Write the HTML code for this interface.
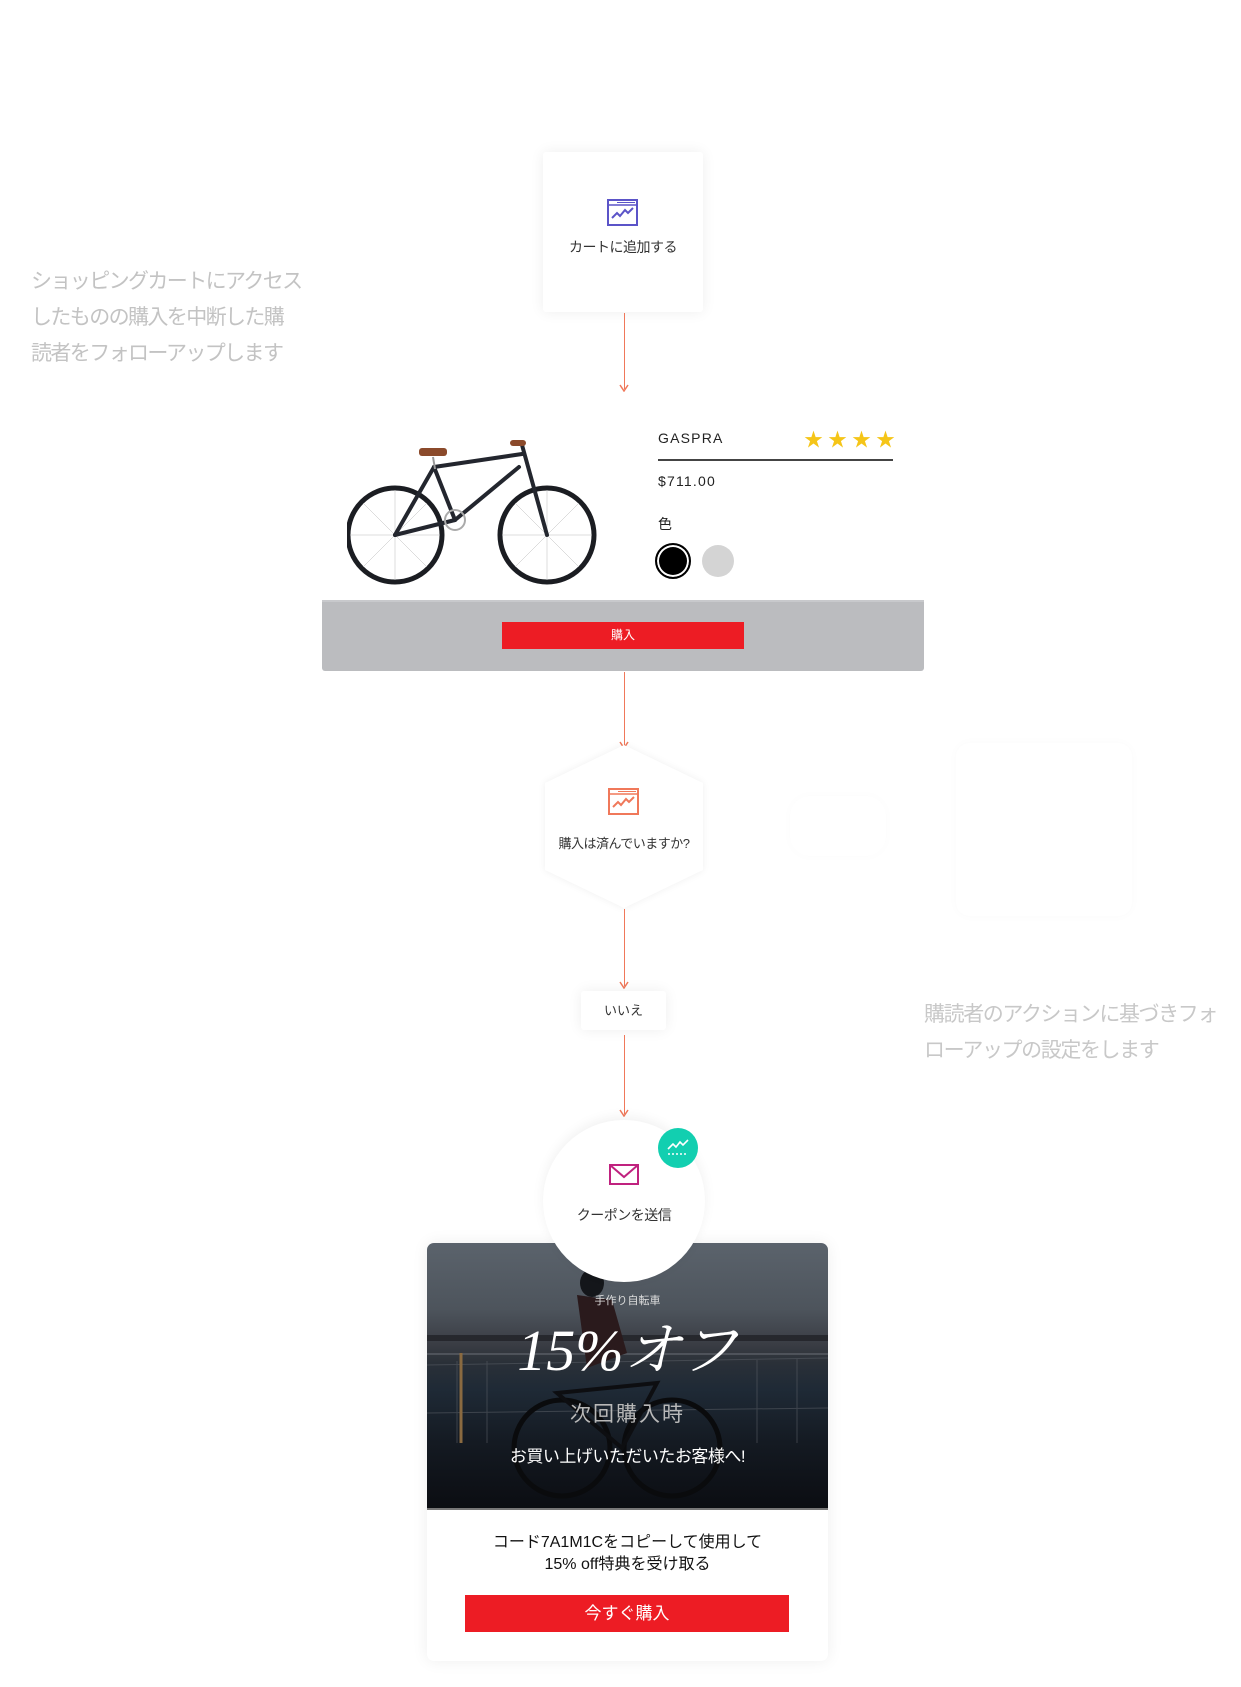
<!DOCTYPE html>
<html><head><meta charset="utf-8"><style>
*{margin:0;padding:0;box-sizing:border-box}
body{width:1241px;height:1687px;background:#fff;position:relative;overflow:hidden;font-family:"Liberation Sans","Noto Sans CJK JP",sans-serif;}
.a{position:absolute}
.t{position:absolute;white-space:nowrap}
.line{position:absolute;width:1.5px;background:#f0785a;left:623.5px}
.ah{position:absolute;left:619px;width:10px;height:8px}
.shadow{box-shadow:0 0 14px rgba(0,0,0,0.07)}
</style></head><body>

<div class="a" style="left:956px;top:743px;width:176px;height:173px;border-radius:14px;box-shadow:0 0 10px rgba(0,0,0,0.025);"></div>
<div class="a" style="left:790px;top:796px;width:96px;height:60px;border-radius:20px;box-shadow:0 0 10px rgba(0,0,0,0.02);"></div>

<div class="t" style="left:31px;top:264px;font-size:21px;line-height:36px;letter-spacing:-1.6px;color:#c3c3c3;">ショッピングカートにアクセス<br>したものの購入を中断した購<br>読者をフォローアップします</div>

<div class="t" style="left:924px;top:997px;font-size:21px;line-height:36px;letter-spacing:-1.4px;color:#c8c8c8;">購読者のアクションに基づきフォ<br>ローアップの設定をします</div>

<div class="a shadow" style="left:543px;top:152px;width:160px;height:160px;background:#fff;border-radius:3px;"></div>
<svg class="a" style="left:607px;top:199px" width="31" height="27" viewBox="0 0 31 27">
<rect x="1" y="1" width="29" height="25" fill="none" stroke="#5b54c8" stroke-width="2"/>
<line x1="1" y1="6" x2="30" y2="6" stroke="#5b54c8" stroke-width="1.5"/>
<line x1="10" y1="3.5" x2="28" y2="3.5" stroke="#5b54c8" stroke-width="1"/>
<polyline points="5,19 10,14 13,17 18,11 21,14 26,9" fill="none" stroke="#5b54c8" stroke-width="2"/>
</svg>
<div class="t" style="left:543px;width:160px;text-align:center;top:237px;font-size:14px;letter-spacing:-0.5px;color:#333;">カートに追加する</div>

<div class="line" style="top:313px;height:76px"></div>
<svg class="ah" style="top:384px" viewBox="0 0 10 8"><polyline points="1,1 5,7 9,1" fill="none" stroke="#f0785a" stroke-width="1.5"/></svg>

<svg class="a" style="left:347px;top:437px" width="252" height="150" viewBox="0 0 252 150">
<g fill="none" stroke="#1b1d22">
<circle cx="48" cy="98" r="47" stroke-width="5"/>
<circle cx="200" cy="98" r="47" stroke-width="5"/>
</g>
<g stroke="#bbb" stroke-width="0.5">
<line x1="48" y1="53" x2="48" y2="143"/><line x1="3" y1="98" x2="93" y2="98"/><line x1="16" y1="66" x2="80" y2="130"/><line x1="80" y1="66" x2="16" y2="130"/>
<line x1="200" y1="53" x2="200" y2="143"/><line x1="155" y1="98" x2="245" y2="98"/><line x1="168" y1="66" x2="232" y2="130"/><line x1="232" y1="66" x2="168" y2="130"/>
</g>
<g stroke="#23262e" stroke-width="4" fill="none" stroke-linecap="round">
<line x1="87" y1="30" x2="175" y2="17"/>
<line x1="87" y1="30" x2="108" y2="83"/>
<line x1="108" y1="83" x2="172" y2="30"/>
<line x1="108" y1="83" x2="48" y2="98"/>
<line x1="87" y1="30" x2="48" y2="98"/>
<line x1="175" y1="8" x2="200" y2="98"/>
</g>
<line x1="86" y1="20" x2="88" y2="32" stroke="#999" stroke-width="2"/>
<rect x="72" y="11" width="28" height="8" rx="3" fill="#8b4a2b"/>
<rect x="163" y="3" width="16" height="6" rx="3" fill="#8b4a2b"/>
<circle cx="108" cy="83" r="10" fill="none" stroke="#aaa" stroke-width="2"/>
</svg>

<div class="t" style="left:658px;top:430px;font-size:14px;letter-spacing:1.2px;color:#222;">GASPRA</div>
<div class="t" style="left:804px;top:425px;font-size:19px;letter-spacing:5px;color:#f5c518;">★★★★</div>
<div class="a" style="left:658px;top:459px;width:235px;height:2px;background:#444;"></div>
<div class="t" style="left:658px;top:473px;font-size:14px;letter-spacing:1.2px;color:#222;">$711.00</div>
<div class="t" style="left:658px;top:514px;font-size:14px;color:#222;">色</div>
<div class="a" style="left:655px;top:543px;width:36px;height:36px;border-radius:50%;background:#000;border:2px solid #000;box-shadow:inset 0 0 0 2px #fff;"></div>
<div class="a" style="left:702px;top:545px;width:32px;height:32px;border-radius:50%;background:#d4d4d4;"></div>

<div class="a" style="left:322px;top:600px;width:602px;height:71px;background:#bbbcbf;border-top:2px solid #c8c9cc;border-radius:0 0 3px 3px;"></div>
<div class="a" style="left:502px;top:622px;width:242px;height:27px;background:#ed1c24;color:#fff;font-size:12px;text-align:center;line-height:27px;">購入</div>

<div class="line" style="top:672px;height:74px"></div>
<svg class="ah" style="top:741px" viewBox="0 0 10 8"><polyline points="1,1 5,7 9,1" fill="none" stroke="#f0785a" stroke-width="1.5"/></svg>

<svg class="a" style="left:534px;top:738px" width="180" height="180" viewBox="0 0 180 180">
<defs><filter id="sh" x="-20%" y="-20%" width="140%" height="140%"><feGaussianBlur stdDeviation="4"/></filter></defs>
<polygon points="90,7 169,45 169,132 90,170 11,132 11,45" fill="#000" opacity="0.06" filter="url(#sh)"/>
<polygon points="90,7 169,45 169,132 90,170 11,132 11,45" fill="#fff"/>
</svg>
<svg class="a" style="left:608px;top:788px" width="31" height="27" viewBox="0 0 31 27">
<rect x="1" y="1" width="29" height="25" fill="none" stroke="#f0785a" stroke-width="2"/>
<line x1="1" y1="6" x2="30" y2="6" stroke="#f0785a" stroke-width="1.5"/>
<line x1="10" y1="3.5" x2="28" y2="3.5" stroke="#f0785a" stroke-width="1"/>
<polyline points="5,19 10,14 13,17 18,11 21,14 26,9" fill="none" stroke="#f0785a" stroke-width="2"/>
</svg>
<div class="t" style="left:534px;width:180px;text-align:center;top:833px;font-size:13px;letter-spacing:-0.5px;color:#333;">購入は済んでいますか?</div>

<div class="line" style="top:909px;height:77px"></div>
<svg class="ah" style="top:981px" viewBox="0 0 10 8"><polyline points="1,1 5,7 9,1" fill="none" stroke="#f0785a" stroke-width="1.5"/></svg>

<div class="a shadow" style="left:581px;top:991px;width:85px;height:39px;background:#fff;border-radius:3px;font-size:13px;color:#333;text-align:center;line-height:39px;">いいえ</div>

<div class="line" style="top:1035px;height:79px"></div>
<svg class="ah" style="top:1109px" viewBox="0 0 10 8"><polyline points="1,1 5,7 9,1" fill="none" stroke="#f0785a" stroke-width="1.5"/></svg>

<div class="a" style="left:427px;top:1243px;width:401px;height:418px;background:#fff;border-radius:7px;box-shadow:0 0 16px rgba(0,0,0,0.07);overflow:hidden;">
  <div class="a" style="left:0;top:0;width:401px;height:266px;background:linear-gradient(180deg,#5b636c 0%,#4d545c 25%,#3a3d44 38%,#2a3038 45%,#1f2a36 55%,#141a22 75%,#0b0d12 100%);"></div>
  <div class="a" style="left:0;top:92px;width:401px;height:6px;background:#1c1e22;opacity:.7"></div>
  <div class="a" style="left:0;top:110px;width:401px;height:2px;background:#6b6f78;opacity:.5"></div>
  <svg class="a" style="left:0;top:0" width="401" height="266">
    <g stroke="#555a62" stroke-width="1" opacity="0.6">
      <line x1="0" y1="122" x2="401" y2="115"/><line x1="0" y1="170" x2="401" y2="165"/>
      <line x1="30" y1="118" x2="30" y2="200"/><line x1="60" y1="118" x2="60" y2="200"/><line x1="330" y1="117" x2="330" y2="200"/><line x1="370" y1="116" x2="370" y2="200"/>
    </g>
    <line x1="34" y1="110" x2="34" y2="200" stroke="#8a6a40" stroke-width="3"/>
    <ellipse cx="165" cy="40" rx="12" ry="14" fill="#14161a"/>
    <path d="M150 52 L185 57 L200 110 L160 125 Z" fill="#2a1a1c"/>
    <circle cx="135" cy="205" r="48" fill="none" stroke="#0a0b0d" stroke-width="5"/>
    <circle cx="245" cy="205" r="48" fill="none" stroke="#0a0b0d" stroke-width="5"/>
    <path d="M130 150 L230 140 L195 205 Z" fill="none" stroke="#0d0e11" stroke-width="4"/>
  </svg>
  <div class="t" style="left:0;width:401px;text-align:center;top:49px;font-size:11px;color:#ddd;">手作り自転車</div>
  <div class="t" style="left:0;width:401px;text-align:center;top:73px;font-size:58px;line-height:70px;color:#fff;font-family:'Liberation Serif','Noto Serif CJK SC',serif;font-style:italic;">15%オフ</div>
  <div class="t" style="left:0;width:401px;text-align:center;top:155px;font-size:21px;letter-spacing:2px;color:#b8b8b8;">次回購入時</div>
  <div class="t" style="left:0;width:401px;text-align:center;top:199px;font-size:17px;letter-spacing:-0.5px;color:#fff;">お買い上げいただいたお客様へ!</div>
  <div class="a" style="left:0;top:265px;width:401px;height:2px;background:#777;"></div>
  <div class="t" style="left:0;width:401px;text-align:center;top:289px;font-size:16px;line-height:22px;color:#111;">コード7A1M1Cをコピーして使用して<br>15% off特典を受け取る</div>
  <div class="a" style="left:38px;top:352px;width:324px;height:37px;background:#ed1c24;color:#fff;font-size:17px;text-align:center;line-height:37px;">今すぐ購入</div>
</div>

<div class="a" style="left:543px;top:1120px;width:162px;height:162px;border-radius:50%;background:#fff;box-shadow:0 -3px 12px rgba(0,0,0,0.06);"></div>
<svg class="a" style="left:609px;top:1164px" width="30" height="21" viewBox="0 0 30 21">
<rect x="1" y="1" width="28" height="19" fill="none" stroke="#c0227f" stroke-width="2"/>
<polyline points="1,1 15,13 29,1" fill="none" stroke="#c0227f" stroke-width="2"/>
</svg>
<div class="t" style="left:543px;width:162px;text-align:center;top:1205px;font-size:14px;letter-spacing:-0.5px;color:#333;">クーポンを送信</div>
<div class="a" style="left:658px;top:1128px;width:40px;height:40px;border-radius:50%;background:#12cfb0;"></div>
<svg class="a" style="left:666px;top:1138px" width="24" height="20" viewBox="0 0 24 20">
<polyline points="2,11 7,6 10,9 14,4 17,7 22,2" fill="none" stroke="#fff" stroke-width="1.6"/>
<line x1="2" y1="16" x2="22" y2="16" stroke="#fff" stroke-width="1.5" stroke-dasharray="2,2"/>
</svg>

</body></html>
